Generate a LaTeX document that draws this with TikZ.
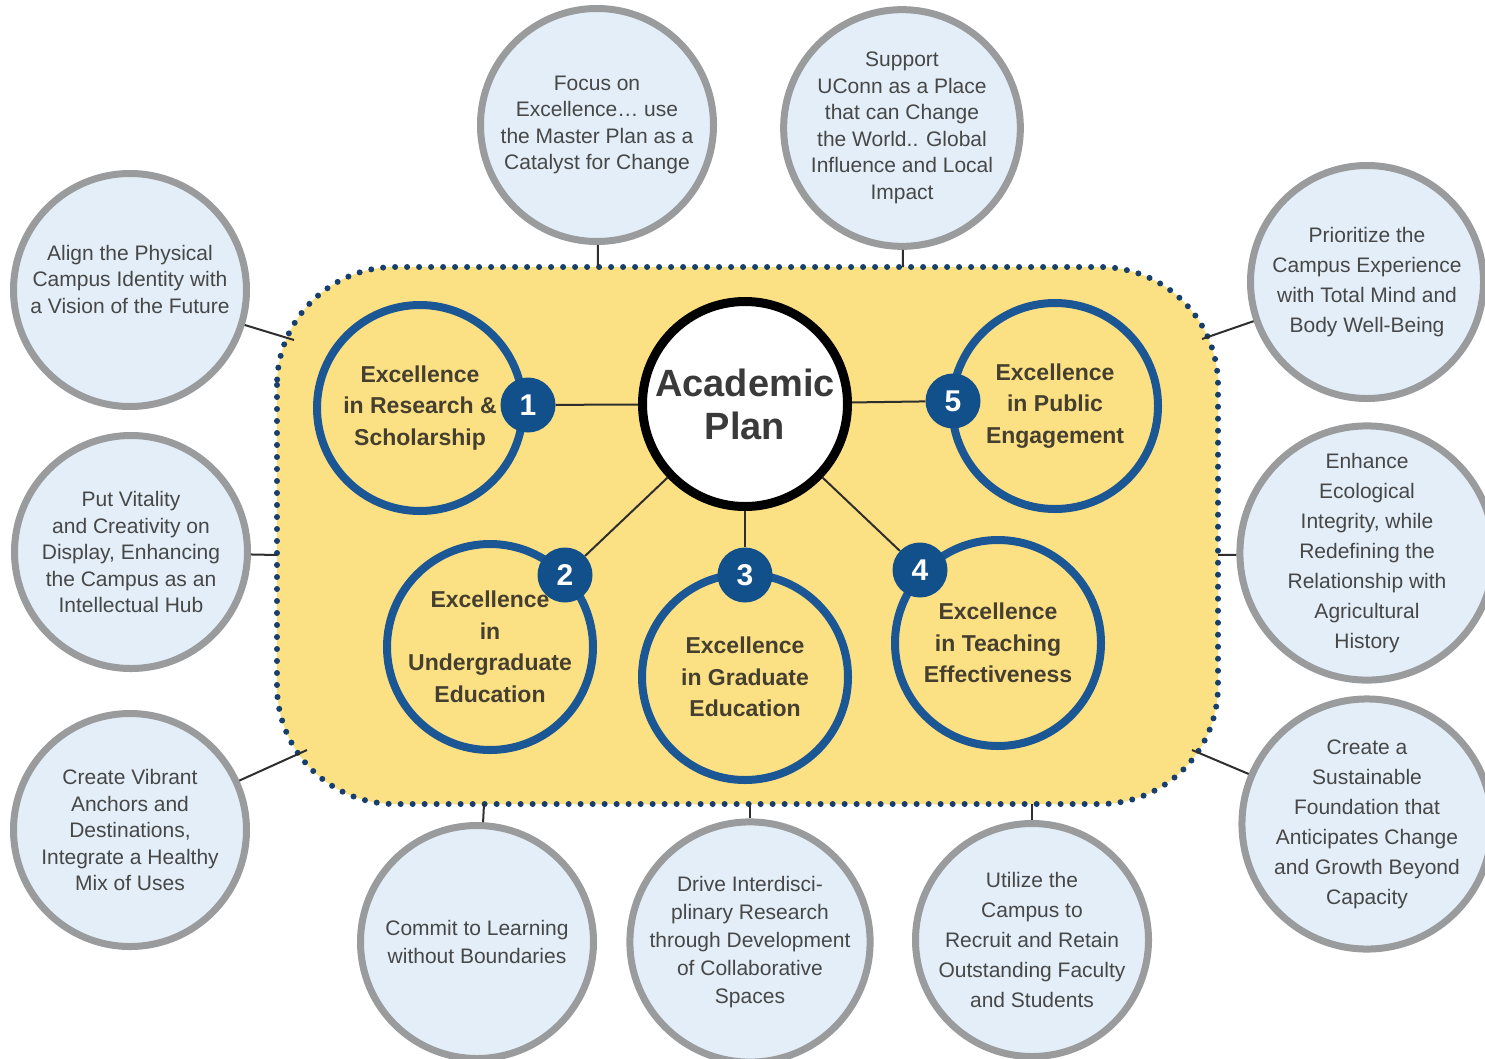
\documentclass[tikz,border=0pt]{standalone}
\usepackage{fontspec}
\setmainfont{Liberation Sans}
\definecolor{ringgray}{HTML}{9A9B9D}
\definecolor{paleblue}{HTML}{E3EEF8}
\definecolor{goaltext}{HTML}{474747}
\definecolor{pillarblue}{HTML}{1B5794}
\definecolor{pillartext}{HTML}{453F2F}
\definecolor{hubtext}{HTML}{3A3A3A}
\definecolor{badgeblue}{HTML}{12508C}
\definecolor{linkgray}{HTML}{2E2E2E}
\definecolor{panelyellow}{HTML}{FCE084}
\definecolor{dotnavy}{HTML}{173F6E}
\begin{document}
\begin{tikzpicture}[x=1pt,y=-1pt,
  goal/.style={circle, draw=ringgray, line width=7pt, fill=paleblue,
    minimum size=233pt, inner sep=0pt, align=center, text=goaltext,
    font=\fontsize{21}{26.5}\selectfont},
  goalwide/.style={goal, font=\fontsize{21}{30}\selectfont},
  goaltxt/.style={align=center, text=goaltext, font=\fontsize{21}{26.5}\selectfont},
  pillar/.style={circle, draw=pillarblue, line width=8pt, fill=panelyellow,
    minimum size=206pt, inner sep=0pt, align=center, text=pillartext,
    font=\bfseries\fontsize{23}{31.5}\selectfont},
  hub/.style={circle, draw=black, line width=9pt, fill=white,
    minimum size=205pt, inner sep=0pt, align=center, text=hubtext,
    font=\bfseries\fontsize{38}{43}\selectfont},
  badge/.style={circle, fill=badgeblue, minimum size=55pt, inner sep=0pt,
    text=white, font=\bfseries\fontsize{30}{30}\selectfont},
  link/.style={draw=linkgray, line width=2pt},
  panel/.style={fill=panelyellow, draw=dotnavy, line width=6pt, line cap=round,
    dash pattern=on 0pt off 12pt, rounded corners=118pt},
]
\useasboundingbox (0,0) rectangle (1485,1058);

% central panel with dotted border
\path[panel] (277,267) rectangle (1218,804);

% attachment points on the panel border
\coordinate (p1) at (294,340);
\coordinate (p2) at (598,267);
\coordinate (p3) at (903,267);
\coordinate (p4) at (1202,339);
\coordinate (p5) at (277,555);
\coordinate (p6) at (1218,555);
\coordinate (p7) at (307,750);
\coordinate (p8) at (1192,750);
\coordinate (p9) at (484,804);
\coordinate (p10) at (750,804);
\coordinate (p11) at (1032,804);

% surrounding goals
\node[goal] (g1) at (130,290) {};
\node[goaltxt] (g1t) at (130,279) {Align the Physical\\Campus Identity with\\a Vision of the Future};
\node[goal] (g2) at (597,125) {Focus on\\Excellence\ldots{} use\\the Master Plan as a\\Catalyst for Change};
\node[goal] (g3) at (902,128) {Support\\UConn as a Place\\that can Change\\the World.. Global\\Influence and Local\\Impact};
\node[goalwide] (g4) at (1367,282) {Prioritize the\\Campus Experience\\with Total Mind and\\Body Well-Being};
\node[goal] (g5) at (131,552) {Put Vitality\\and Creativity on\\Display, Enhancing\\the Campus as an\\Intellectual Hub};
\node[goalwide] (g6) at (1367,553) {Enhance\\Ecological\\Integrity, while\\Redefining the\\Relationship with\\Agricultural\\History};
\node[goal] (g7) at (130,830) {Create Vibrant\\Anchors and\\Destinations,\\Integrate a Healthy\\Mix of Uses};
\node[goalwide] (g8) at (1367,824) {Create a\\Sustainable\\Foundation that\\Anticipates Change\\and Growth Beyond\\Capacity};
\node[goal, font=\fontsize{21}{28}\selectfont] (g9) at (477,942) {Commit to Learning\\without Boundaries};
\node[goal, font=\fontsize{21}{28}\selectfont] (g10) at (750,942) {Drive Interdisci-\\plinary Research\\through Development\\of Collaborative\\Spaces};
\node[goalwide] (g11) at (1032,940) {Utilize the\\Campus to\\Recruit and Retain\\Outstanding Faculty\\and Students};

% goal connectors
\draw[link] (g1) -- (p1);
\draw[link] (g2) -- (p2);
\draw[link] (g3) -- (p3);
\draw[link] (g4) -- (p4);
\draw[link] (g5) -- (p5);
\draw[link] (g6) -- (p6);
\draw[link] (g7) -- (p7);
\draw[link] (g8) -- (p8);
\draw[link] (g9) -- (p9);
\draw[link] (g10) -- (p10);
\draw[link] (g11) -- (p11);

% academic plan and its five pillars
\node[hub] (ap) at (745,404) {Academic\\Plan};
\node[pillar] (e1) at (420,408) {Excellence\\in Research \&\\Scholarship};
\node[pillar] (e5) at (1055,406) {Excellence\\in Public\\Engagement};
\node[pillar] (e2) at (490,647) {Excellence\\in\\Undergraduate\\Education};
\node[pillar] (e3) at (745,677) {Excellence\\in Graduate\\Education};
\node[pillar] (e4) at (998,643) {Excellence\\in Teaching\\Effectiveness};

\node[badge] (b1) at (528,405) {1};
\node[badge] (b5) at (953,401) {5};
\node[badge] (b2) at (565,575) {2};
\node[badge] (b3) at (745,575) {3};
\node[badge] (b4) at (920,570) {4};

\draw[link] (ap) -- (b1);
\draw[link] (ap) -- (b5);
\draw[link] (ap) -- (b2);
\draw[link] (ap) -- (b3);
\draw[link] (ap) -- (b4);
\end{tikzpicture}
\end{document}
